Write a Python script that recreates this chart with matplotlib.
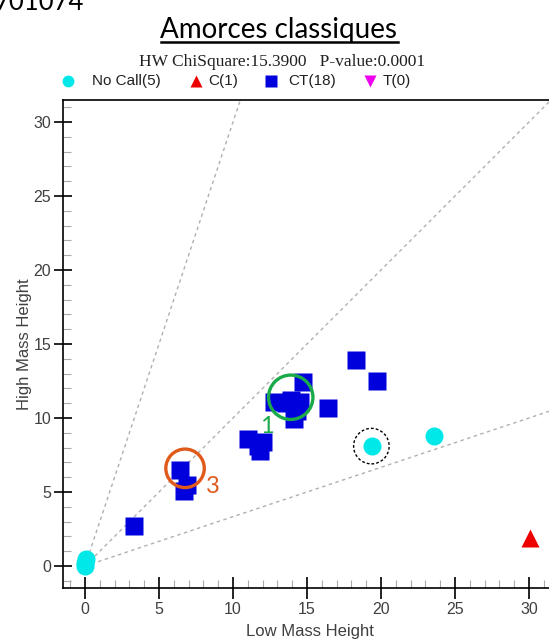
import matplotlib.pyplot as plt
from matplotlib.lines import Line2D
from matplotlib.patches import Circle
from matplotlib.ticker import MultipleLocator

# genotype clusters
no_call_x = [0.0, 0.1, 0.0, 19.4, 23.6]
no_call_y = [0.0, 0.5, 0.2, 8.1, 8.8]
c_x = [30.1]
c_y = [1.9]
ct_x = [3.3, 6.4, 6.9, 6.7, 11.0, 11.8, 12.0, 11.7,
        12.8, 13.6, 14.7, 14.1, 16.4, 13.9, 14.5, 14.3, 18.3, 19.7]
ct_y = [2.7, 6.5, 5.5, 5.1, 8.6, 7.8, 8.4, 8.1,
        11.1, 11.0, 12.4, 9.9, 10.7, 11.2, 11.1, 10.5, 13.9, 12.5]
t_x = []
t_y = []
ratio_slopes = [3.0, 1.0, 1.0 / 3.0]

W, H = 549, 641
fig = plt.figure(figsize=(W / 100, H / 100), dpi=100)
plt.rcParams['font.family'] = ['Liberation Sans', 'DejaVu Sans']

# axes box in pixels: left 63, right past the edge, top 100, bottom 588
px = 14.8
x0_px, y0_px = 85, 566
left, right, top, bottom = 63, 556, 100, 588
ax = fig.add_axes([left / W, 1 - bottom / H, (right - left) / W, (bottom - top) / H])
ax.set_xlim((left - x0_px) / px, (right - x0_px) / px)
ax.set_ylim((y0_px - bottom) / px, (y0_px - top) / px)

# ratio lines from origin
for s in ratio_slopes:
    ax.plot([0, 40], [0, 40 * s], color='#b0b0b0', lw=1, ls=(0, (2.5, 2.5)), zorder=1)

ax.plot(no_call_x, no_call_y, 'o', color='#00e8e8', ms=13, mec='none', zorder=3)
ax.plot(c_x, c_y, '^', color='#ee0000', ms=13, mec='none', zorder=3)
ax.plot(ct_x, ct_y, 's', color='#0000dd', ms=13, mec='none', zorder=3)
ax.plot(t_x, t_y, 'v', color='#ee00ee', ms=13, mec='none', zorder=3)

# selected point ring
ax.add_patch(Circle((19.35, 8.1), 1.2, fill=False, ec='black', lw=1, ls=(0, (2, 1.5)), zorder=4))

# overlays
ax.add_patch(Circle((13.9, 11.4), 1.5, fill=False, ec='#1aaa4a', lw=2.4, zorder=5))
ax.add_patch(Circle((6.76, 6.6), 1.3, fill=False, ec='#e05a1c', lw=2.4, zorder=5))
ax.text(12.3, 9.4, '1', color='#1aaa4a', fontsize=17, family='Lato', ha='center', va='center', zorder=6)
ax.text(8.65, 5.4, '3', color='#e05a1c', fontsize=17, family='Lato', ha='center', va='center', zorder=6)

for sp in ax.spines.values():
    sp.set_linewidth(1.2)
ax.xaxis.set_major_locator(MultipleLocator(5))
ax.yaxis.set_major_locator(MultipleLocator(5))
ax.xaxis.set_minor_locator(MultipleLocator(1))
ax.yaxis.set_minor_locator(MultipleLocator(1))
ax.tick_params(which='major', direction='inout', width=1.2, color='black',
               labelsize=11.5, labelcolor='#404040', pad=2)
ax.tick_params(axis='x', which='major', length=16)
ax.tick_params(axis='y', which='major', length=13)
ax.tick_params(which='minor', direction='in', length=6, width=0.8, color='#aaaaaa')
ax.set_xlabel('Low Mass Height', fontsize=12, color='#404040', labelpad=5)
ax.set_ylabel('High Mass Height', fontsize=12, color='#404040', labelpad=1)

# legend row, placed by hand like the source software
legend_items = [
    ('o', '#00e8e8', 'No Call(%d)' % len(no_call_x), 68, 92),
    ('^', '#ee0000', 'C(%d)' % len(c_x), 196, 208),
    ('s', '#0000dd', 'CT(%d)' % len(ct_x), 271, 288),
    ('v', '#ee00ee', 'T(%d)' % len(t_x), 370, 383),
]
ly = 1 - 81 / H
for mk, col, lab, mx, tx in legend_items:
    fig.add_artist(Line2D([mx / W], [ly], ls='none', marker=mk, color=col, ms=8.5, mec='none'))
    fig.text(tx / W, ly, lab, fontsize=11, ha='left', va='center', color='#202020')

fig.text(282 / W, 1 - 62 / H, 'HW ChiSquare:15.3900   P-value:0.0001',
         family='Liberation Serif', fontsize=12.5, ha='center', va='center', color='#202020')

title = fig.text(279 / W, 1 - 30 / H, 'Amorces classiques', family='Lato', fontsize=20,
                 ha='center', va='center')
fig.text(84 / W, 1 - 15 / H, '701074', family='Lato', fontsize=18.5, ha='right', va='bottom')

# underline the title
fig.canvas.draw()
bb = title.get_window_extent().transformed(fig.transFigure.inverted())
fig.add_artist(Line2D([bb.x0, bb.x1], [bb.y0 + 0.001, bb.y0 + 0.001], color='black', lw=1.8))

fig.savefig('out.png', dpi=100)
